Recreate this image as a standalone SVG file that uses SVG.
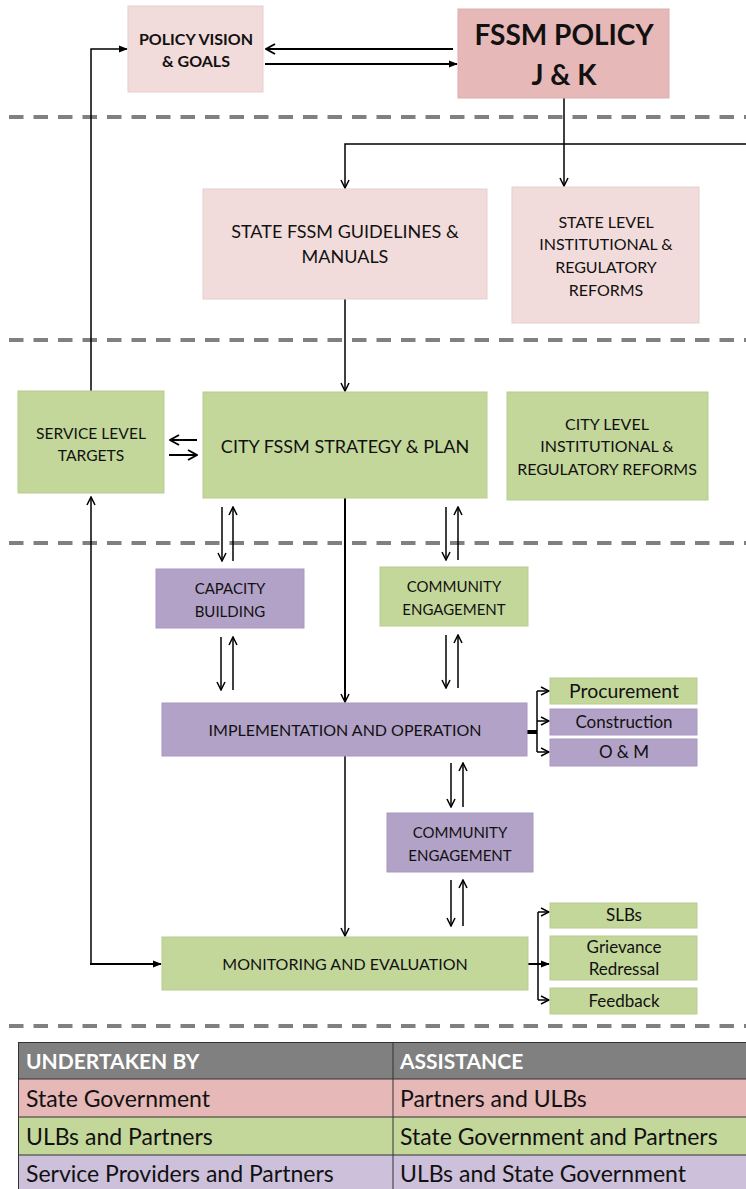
<svg xmlns="http://www.w3.org/2000/svg" width="746" height="1189" viewBox="0 0 746 1189">
<defs>
<marker id="ah" viewBox="0 0 10 10" refX="9" refY="5" markerWidth="10" markerHeight="10" markerUnits="userSpaceOnUse" orient="auto">
<path d="M1,1 L9,5 L1,9" fill="none" stroke="#000" stroke-width="1.5"/>
</marker>
<marker id="ahf" viewBox="0 0 10 10" refX="9" refY="5" markerWidth="9" markerHeight="9" markerUnits="userSpaceOnUse" orient="auto">
<path d="M0,1 L10,5 L0,9 Z" fill="#000"/>
</marker>
<marker id="ahb" viewBox="0 0 12 12" refX="11" refY="6" markerWidth="12" markerHeight="12" markerUnits="userSpaceOnUse" orient="auto">
<path d="M2,1 L11,6 L2,11" fill="none" stroke="#000" stroke-width="2"/>
</marker>
</defs>
<style>
text{font-family:Lato,"Open Sans","Liberation Sans",sans-serif;fill:#111;text-anchor:middle}
.pink{fill:#f2dcdb;stroke:#e6cfcf;stroke-width:1}
.rose{fill:#e6b8b7;stroke:#dcaeae;stroke-width:1}
.green{fill:#c4d79b;stroke:#b8cc90;stroke-width:1}
.purple{fill:#b2a2c7;stroke:#a898bd;stroke-width:1}
.dash{stroke:#808080;stroke-width:4;stroke-dasharray:14.5 10}
.ln{fill:none;stroke:#000;stroke-width:1.5}
.ln2{fill:none;stroke:#000;stroke-width:2}
.t15{font-size:15px}
.t16{font-size:16px}
.t17{font-size:17px}
.tbl{font-size:23px;text-anchor:start}
.th{font-size:21px;text-anchor:start;font-weight:bold;fill:#fff}
</style>
<g id="separators">
<line class="dash" x1="9" y1="117" x2="746" y2="117"/>
<line class="dash" x1="9" y1="340" x2="746" y2="340"/>
<line class="dash" x1="9" y1="543" x2="746" y2="543"/>
<line class="dash" x1="9" y1="1026" x2="746" y2="1026"/>
</g>
<g id="connectors">
<line class="ln2" x1="453" y1="49" x2="266" y2="49" marker-end="url(#ahb)"/>
<line class="ln2" x1="265" y1="64" x2="457" y2="64" marker-end="url(#ahf)"/>
<polyline class="ln" points="91,391 91,49 127,49" marker-end="url(#ahf)"/>
<line class="ln" x1="564" y1="98" x2="564" y2="186" marker-end="url(#ah)"/>
<polyline class="ln" points="746,144 345,144 345,188" marker-end="url(#ah)"/>
<line class="ln" x1="345" y1="299" x2="345" y2="391" marker-end="url(#ah)"/>
<line class="ln2" x1="197" y1="440" x2="170" y2="440" marker-end="url(#ahb)"/>
<line class="ln2" x1="169" y1="455" x2="197" y2="455" marker-end="url(#ahb)"/>
<line class="ln" x1="222" y1="507" x2="222" y2="561" marker-end="url(#ah)"/>
<line class="ln" x1="233" y1="561" x2="233" y2="507" marker-end="url(#ah)"/>
<line class="ln" x1="446" y1="507" x2="446" y2="560" marker-end="url(#ah)"/>
<line class="ln" x1="458" y1="560" x2="458" y2="507" marker-end="url(#ah)"/>
<line class="ln" x1="221" y1="637" x2="221" y2="690" marker-end="url(#ah)"/>
<line class="ln" x1="233" y1="690" x2="233" y2="637" marker-end="url(#ah)"/>
<line class="ln" x1="446" y1="635" x2="446" y2="688" marker-end="url(#ah)"/>
<line class="ln" x1="458" y1="688" x2="458" y2="635" marker-end="url(#ah)"/>
<line class="ln2" x1="345" y1="498" x2="345" y2="702" marker-end="url(#ah)"/>
<line class="ln" x1="345" y1="756" x2="345" y2="936" marker-end="url(#ah)"/>
<line x1="527" y1="732" x2="537" y2="732" stroke="#000" stroke-width="4"/>
<line class="ln" x1="537" y1="691" x2="537" y2="752"/>
<line class="ln" x1="537" y1="691" x2="549" y2="691" marker-end="url(#ah)"/>
<line class="ln" x1="537" y1="721" x2="549" y2="721" marker-end="url(#ah)"/>
<line class="ln" x1="537" y1="752" x2="549" y2="752" marker-end="url(#ah)"/>
<line class="ln" x1="451" y1="763" x2="451" y2="807" marker-end="url(#ah)"/>
<line class="ln" x1="463" y1="807" x2="463" y2="763" marker-end="url(#ah)"/>
<line class="ln" x1="451" y1="880" x2="451" y2="926" marker-end="url(#ah)"/>
<line class="ln" x1="463" y1="926" x2="463" y2="880" marker-end="url(#ah)"/>
<line class="ln" x1="91" y1="964" x2="91" y2="497" marker-end="url(#ah)"/>
<line class="ln2" x1="90" y1="964" x2="161" y2="964" marker-end="url(#ahf)"/>
<line class="ln2" x1="528" y1="964" x2="549" y2="964" marker-end="url(#ahf)"/>
<line class="ln" x1="538" y1="912" x2="538" y2="1000"/>
<line class="ln" x1="538" y1="912" x2="549" y2="912" marker-end="url(#ah)"/>
<line class="ln" x1="538" y1="1000" x2="549" y2="1000" marker-end="url(#ah)"/>
</g>
<g id="policy-vision">
<rect class="pink" x="128" y="6" width="135" height="86"/>
<text x="196" y="45" font-size="16" font-weight="bold">POLICY VISION</text>
<text x="196" y="67" font-size="16" font-weight="bold">&amp; GOALS</text>
</g>
<g id="fssm-policy">
<rect class="rose" x="458" y="9" width="211" height="89"/>
<text x="564" y="45" font-size="28" font-weight="bold">FSSM POLICY</text>
<text x="564" y="85" font-size="28" font-weight="bold">J &amp; K</text>
</g>
<g id="state-guidelines">
<rect class="pink" x="203" y="189" width="284" height="110"/>
<text x="345" y="238" font-size="18">STATE FSSM GUIDELINES &amp;</text>
<text x="345" y="263" font-size="18">MANUALS</text>
</g>
<g id="state-reforms">
<rect class="pink" x="512" y="187" width="187" height="136"/>
<text class="t16" x="606" y="228">STATE LEVEL</text>
<text class="t16" x="606" y="250">INSTITUTIONAL &amp;</text>
<text class="t16" x="606" y="273">REGULATORY</text>
<text class="t16" x="606" y="296">REFORMS</text>
</g>
<g id="service-targets">
<rect class="green" x="18" y="391" width="146" height="102"/>
<text x="91" y="439" font-size="15.6">SERVICE LEVEL</text>
<text x="91" y="461" font-size="15.6">TARGETS</text>
</g>
<g id="city-strategy">
<rect class="green" x="203" y="392" width="284" height="106"/>
<text x="345" y="453" font-size="18">CITY FSSM STRATEGY &amp; PLAN</text>
</g>
<g id="city-reforms">
<rect class="green" x="507" y="392" width="201" height="108"/>
<text class="t16" x="607" y="430">CITY LEVEL</text>
<text class="t16" x="607" y="452">INSTITUTIONAL &amp;</text>
<text class="t16" x="607" y="475">REGULATORY REFORMS</text>
</g>
<g id="capacity-building">
<rect class="purple" x="156" y="569" width="148" height="59"/>
<text class="t15" x="230" y="594">CAPACITY</text>
<text class="t15" x="230" y="617">BUILDING</text>
</g>
<g id="community-engagement-1">
<rect class="green" x="380" y="567" width="148" height="59"/>
<text class="t15" x="454" y="592">COMMUNITY</text>
<text class="t15" x="454" y="615">ENGAGEMENT</text>
</g>
<g id="implementation">
<rect class="purple" x="162" y="703" width="365" height="53"/>
<text x="345" y="736" font-size="16">IMPLEMENTATION AND OPERATION</text>
</g>
<g id="procurement">
<rect class="green" x="550" y="678" width="147" height="26"/>
<text x="624" y="698" font-size="19.4">Procurement</text>
</g>
<g id="construction">
<rect class="purple" x="550" y="709" width="147" height="26"/>
<text class="t17" x="624" y="728">Construction</text>
</g>
<g id="om">
<rect class="purple" x="550" y="739" width="147" height="27"/>
<text class="t17" x="624" y="758">O &amp; M</text>
</g>
<g id="community-engagement-2">
<rect class="purple" x="387" y="813" width="146" height="59"/>
<text class="t15" x="460" y="838">COMMUNITY</text>
<text class="t15" x="460" y="861">ENGAGEMENT</text>
</g>
<g id="monitoring">
<rect class="green" x="162" y="937" width="366" height="53"/>
<text class="t16" x="345" y="970">MONITORING AND EVALUATION</text>
</g>
<g id="slbs">
<rect class="green" x="550" y="903" width="147" height="25"/>
<text class="t17" x="624" y="921">SLBs</text>
</g>
<g id="grievance">
<rect class="green" x="550" y="936" width="147" height="44"/>
<text class="t17" x="624" y="953">Grievance</text>
<text class="t17" x="624" y="975">Redressal</text>
</g>
<g id="feedback">
<rect class="green" x="550" y="988" width="147" height="26"/>
<text class="t17" x="624" y="1007">Feedback</text>
</g>
<g id="legend">
<rect x="18" y="1042" width="730" height="37" fill="#808080"/>
<rect x="18" y="1079" width="730" height="38" fill="#e6b8b7"/>
<rect x="18" y="1117" width="730" height="38" fill="#c4d79b"/>
<rect x="18" y="1155" width="730" height="36" fill="#ccc0da"/>
<g stroke="#333" stroke-width="1" fill="none">
<rect x="18.5" y="1042.5" width="730" height="150"/>
<line x1="18" y1="1079" x2="746" y2="1079"/>
<line x1="18" y1="1117" x2="746" y2="1117"/>
<line x1="18" y1="1155" x2="746" y2="1155"/>
<line x1="393" y1="1042" x2="393" y2="1189"/>
</g>
<text class="th" x="26" y="1069">UNDERTAKEN BY</text>
<text class="th" x="400" y="1069">ASSISTANCE</text>
<text class="tbl" x="26" y="1107">State Government</text>
<text class="tbl" x="400" y="1107">Partners and ULBs</text>
<text class="tbl" x="26" y="1145">ULBs and Partners</text>
<text class="tbl" x="400" y="1145">State Government and Partners</text>
<text class="tbl" x="26" y="1182">Service Providers and Partners</text>
<text class="tbl" x="400" y="1182">ULBs and State Government</text>
</g>
</svg>
